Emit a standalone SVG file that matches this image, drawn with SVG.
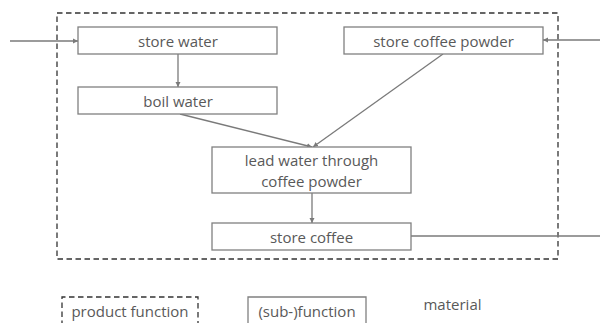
<svg xmlns="http://www.w3.org/2000/svg" width="600" height="323" viewBox="0 0 600 323">
<style>
.box{fill:#fff;stroke:#808080;stroke-width:1.3}
.dash{fill:none;stroke:#333;stroke-width:1.3;stroke-dasharray:5.5,3.5}
.t{font-family:"Open Sans","Noto Sans",sans-serif;font-size:15px;fill:#595959;text-anchor:middle}
.c{fill:none;stroke:#7a7a7a;stroke-width:1.3}
</style>
<defs>
<marker id="ah" markerWidth="6" markerHeight="6" refX="5" refY="3" orient="auto" markerUnits="userSpaceOnUse">
<path d="M0,0.5 L5,3 L0,5.5 Z" fill="#7a7a7a"/>
</marker>
</defs>
<rect class="dash" x="57" y="13" width="501" height="246"/>
<g id="connectors">
<line class="c" x1="10" y1="41" x2="78" y2="41" marker-end="url(#ah)"/>
<line class="c" x1="600" y1="40" x2="543" y2="40" marker-end="url(#ah)"/>
<line class="c" x1="178" y1="54" x2="178" y2="87" marker-end="url(#ah)"/>
<line class="c" x1="180" y1="114" x2="312" y2="147" marker-end="url(#ah)"/>
<line class="c" x1="443" y1="54" x2="313" y2="147" marker-end="url(#ah)"/>
<line class="c" x1="312" y1="193" x2="312" y2="223" marker-end="url(#ah)"/>
<line class="c" x1="411" y1="236" x2="600" y2="236"/>
</g>
<g id="store-water"><rect class="box" x="78" y="27" width="199" height="27"/><text class="t" x="178" y="46.5">store water</text></g>
<g id="store-coffee-powder"><rect class="box" x="344" y="27" width="199" height="27"/><text class="t" x="443.5" y="46.5">store coffee powder</text></g>
<g id="boil-water"><rect class="box" x="78" y="87" width="199" height="27"/><text class="t" x="178" y="106.5">boil water</text></g>
<g id="lead-water"><rect class="box" x="212" y="147" width="199" height="46"/><text class="t" x="311.5" y="166">lead water through</text><text class="t" x="311.5" y="187">coffee powder</text></g>
<g id="store-coffee"><rect class="box" x="212" y="223" width="199" height="27"/><text class="t" x="311.5" y="242.5">store coffee</text></g>
<g id="legend-product-function"><path class="dash" d="M62,326 V297 H198 V326"/><text class="t" x="130" y="317">product function</text></g>
<g id="legend-sub-function"><path class="box" d="M248,326 V297 H366 V326"/><text class="t" x="307" y="317">(sub-)function</text></g>
<g id="legend-material"><text class="t" x="452.5" y="310">material</text></g>
</svg>
